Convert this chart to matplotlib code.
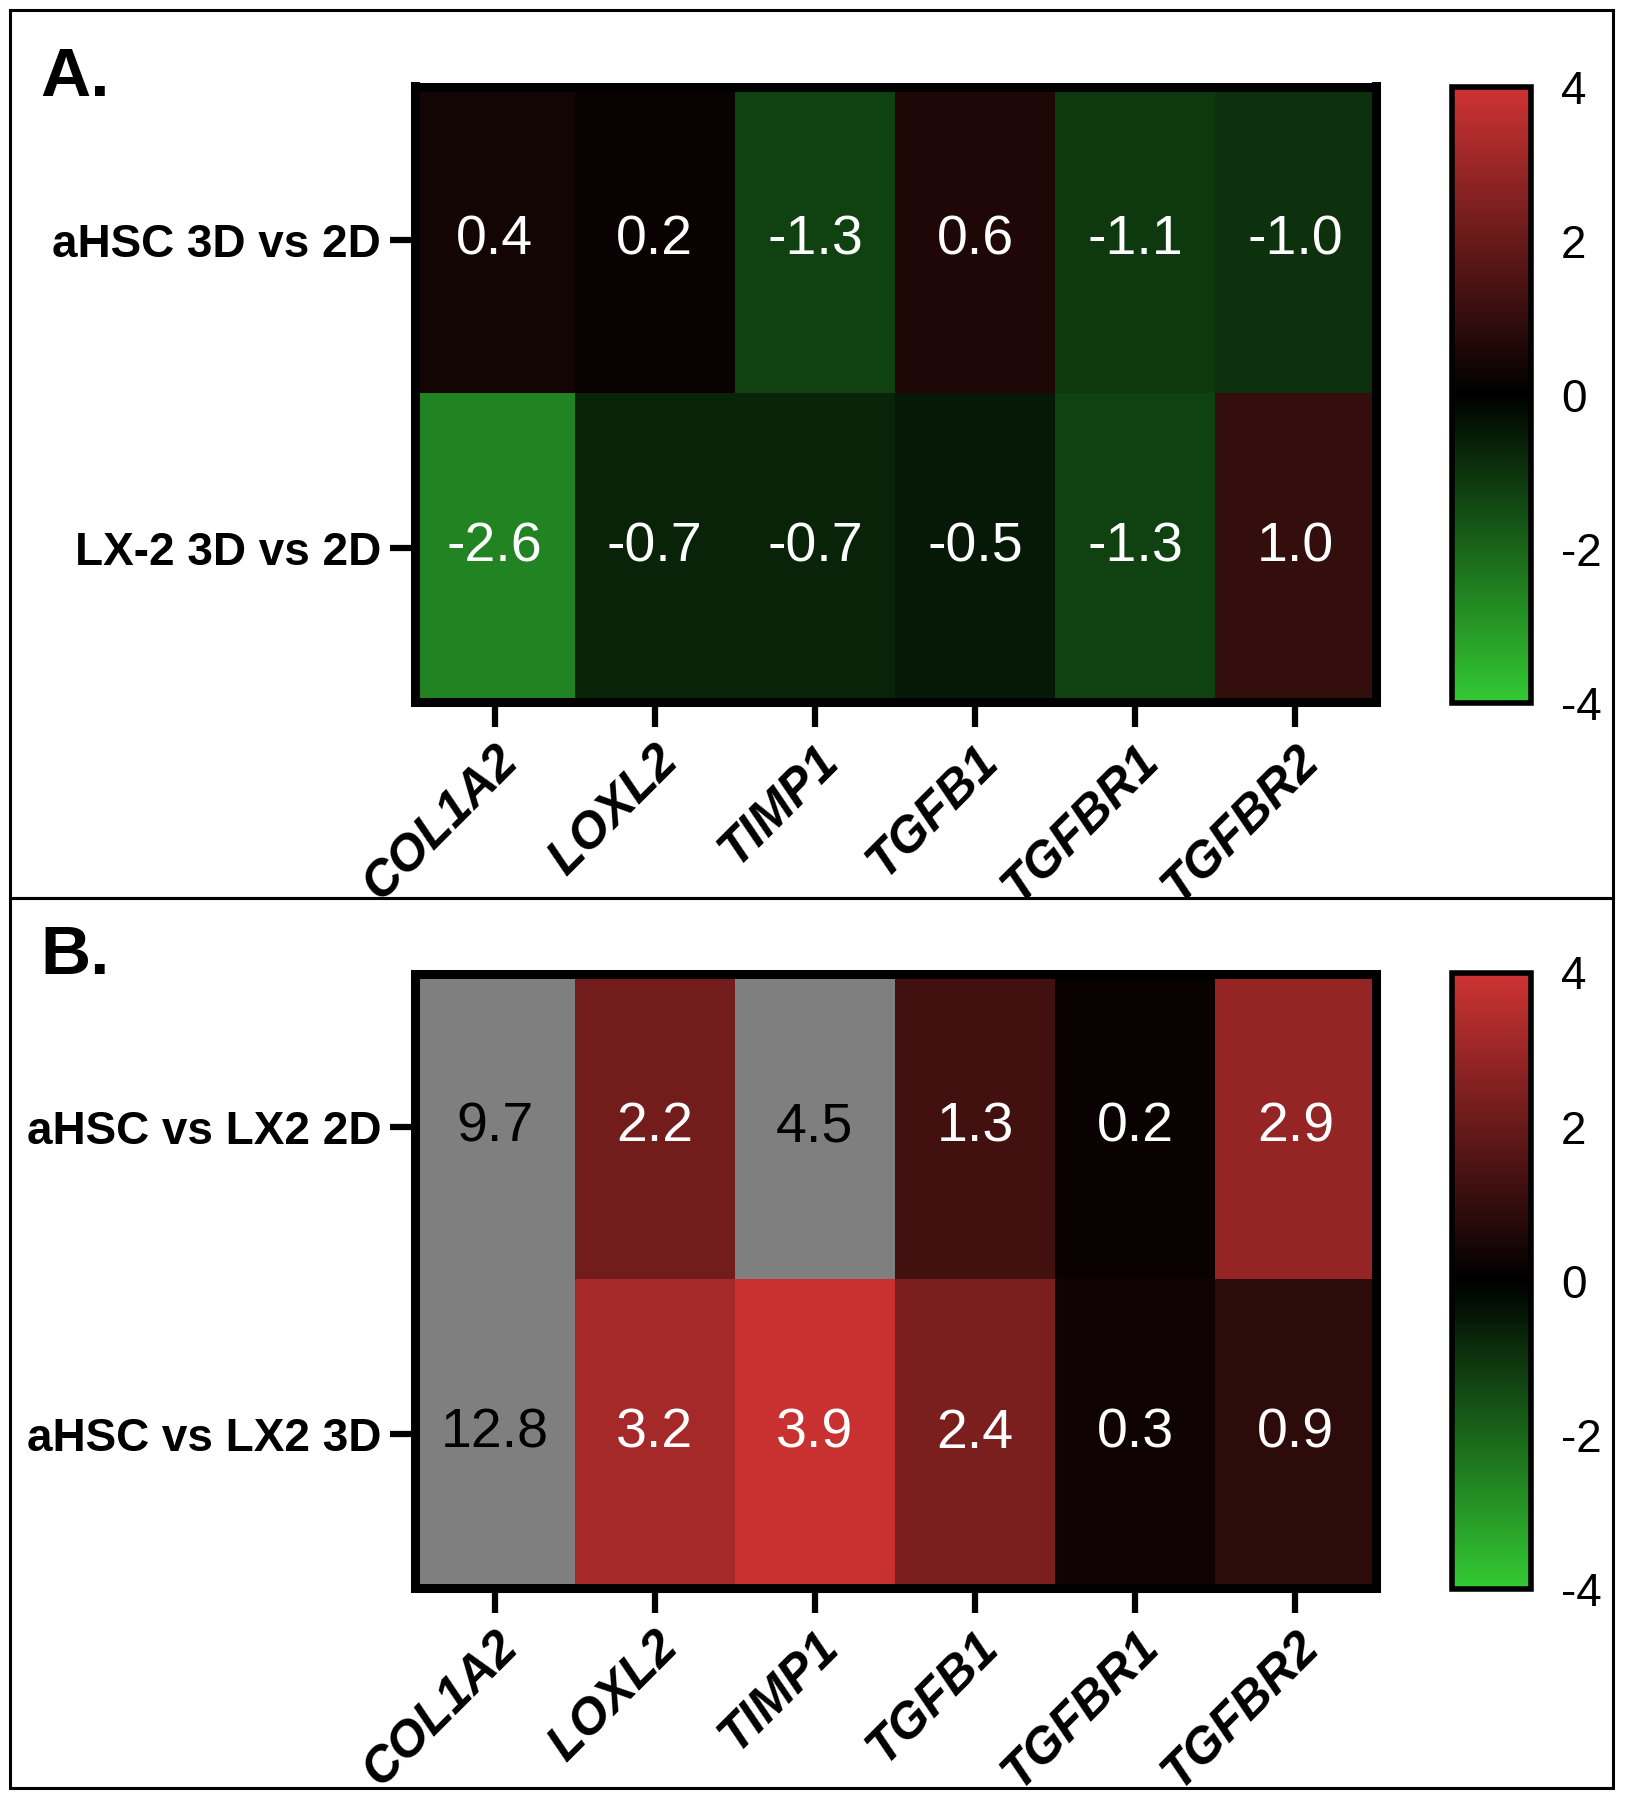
import numpy as np
import matplotlib
matplotlib.use("Agg")
import matplotlib.pyplot as plt
from matplotlib.colors import LinearSegmentedColormap, Normalize
from matplotlib.patches import Rectangle

genes = ["COL1A2", "LOXL2", "TIMP1", "TGFB1", "TGFBR1", "TGFBR2"]

rows_a = ["aHSC 3D vs 2D", "LX-2 3D vs 2D"]
vals_a = [[0.4, 0.2, -1.3, 0.6, -1.1, -1.0],
          [-2.6, -0.7, -0.7, -0.5, -1.3, 1.0]]

rows_b = ["aHSC vs LX2 2D", "aHSC vs LX2 3D"]
vals_b = [[9.7, 2.2, 4.5, 1.3, 0.2, 2.9],
          [12.8, 3.2, 3.9, 2.4, 0.3, 0.9]]

cbar_ticks = [-4, -2, 0, 2, 4]

plt.rcParams['font.family'] = ['Liberation Sans', 'DejaVu Sans']
plt.rcParams['axes.unicode_minus'] = False

W, H = 1628, 1800
fig = plt.figure(figsize=(W / 100, H / 100), dpi=100)

cmap = LinearSegmentedColormap.from_list("gkr", [(0.2, 0.79, 0.2), (0, 0, 0), (0.81, 0.2, 0.2)])
cmap.set_over((0.5, 0.5, 0.5))
cmap.set_under((0.5, 0.5, 0.5))
norm = Normalize(vmin=-4, vmax=4)


def fx(px):
    return px / W


def fy(py):
    return 1 - py / H


def panel(data, rows, letter, top_px, bot_px, cb_top, cb_bot, letter_y):
    data = np.array(data)
    ax = fig.add_axes([fx(414.5), fy(bot_px), fx(1375.5) - fx(414.5), fy(top_px) - fy(bot_px)])
    im = ax.imshow(data, cmap=cmap, norm=norm, aspect='auto')
    for i in range(data.shape[0]):
        for j in range(data.shape[1]):
            v = data[i, j]
            col = 'black' if v > 4 else 'white'
            ax.text(j, i, f"{v:.1f}", ha='center', va='center', color=col, fontsize=40)
    ax.set_xticks(range(len(genes)))
    ax.set_xticklabels(genes, rotation=45, ha='right', rotation_mode='anchor',
                       fontsize=36, fontweight='bold', fontstyle='italic')
    ax.set_yticks(range(len(rows)))
    ax.set_yticklabels(rows, fontsize=33, fontweight='bold')
    ax.tick_params(axis='x', length=18, width=4.5, pad=8)
    ax.tick_params(axis='y', length=18, width=4.5, pad=6)
    for s in ax.spines.values():
        s.set_linewidth(6.5)

    cax = fig.add_axes([fx(1451.5), fy(cb_bot), fx(1530.5) - fx(1451.5), fy(cb_top) - fy(cb_bot)])
    cb = fig.colorbar(im, cax=cax)
    cb.outline.set_linewidth(4)
    cb.set_ticks(cbar_ticks)
    cb.ax.tick_params(which='major', length=0, labelsize=33, pad=22)
    cb.ax.set_yticks([-2, 2], minor=True)
    cb.ax.tick_params(which='minor', direction='in', left=True, right=True, length=8, width=3.5)

    fig.text(fx(40), fy(letter_y), letter, fontsize=50, fontweight='bold', ha='left', va='baseline')


panel(vals_a, rows_a, "A.", 86.5, 701.5, 86.5, 702.5, 96)
panel(vals_b, rows_b, "B.", 973.5, 1587.5, 972.5, 1588.5, 974)

# outer panel boxes
fig.patches.append(Rectangle((fx(10), fy(898)), fx(1613) - fx(10), fy(10) - fy(898),
                             transform=fig.transFigure, fill=False, lw=2.2, ec='black'))
fig.patches.append(Rectangle((fx(10), fy(1788)), fx(1613) - fx(10), fy(898) - fy(1788),
                             transform=fig.transFigure, fill=False, lw=2.2, ec='black'))

fig.savefig("out.png", dpi=100)
